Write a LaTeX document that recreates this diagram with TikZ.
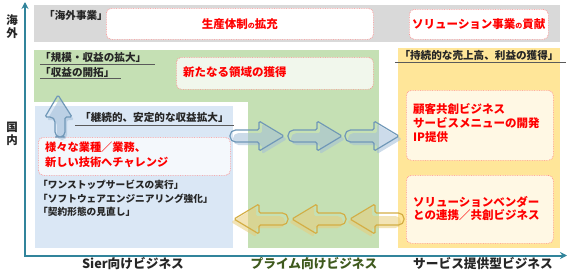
\documentclass[tikz,border=0pt]{standalone}
\usepackage{fontspec}
\usetikzlibrary{arrows.meta}
\newfontfamily\jp{Noto Sans CJK JP}
\definecolor{axisc}{HTML}{31849B}
\definecolor{grayband}{HTML}{D9D9D9}
\definecolor{greenreg}{HTML}{C5E0B4}
\definecolor{bluereg}{HTML}{DAE7F5}
\definecolor{yellowreg}{HTML}{FFE699}
\definecolor{creamfill}{HTML}{FFF8E4}
\definecolor{greenfill}{HTML}{F1F7EC}
\definecolor{bluefill}{HTML}{F4F8FC}
\definecolor{dotred}{HTML}{FF8A8A}
\definecolor{redtext}{HTML}{FF0000}
\definecolor{darktext}{HTML}{262626}
\definecolor{olivetext}{HTML}{3F5A1E}
\definecolor{ulinec}{HTML}{5A5A5A}
\definecolor{barline}{HTML}{7098B8}
\definecolor{barfill}{HTML}{A3BED8}
\definecolor{garline}{HTML}{D4AE45}
\definecolor{garfill}{HTML}{E9CD7A}
\tikzset{
  dotbox/.style={draw=dotred, densely dotted, line width=0.7pt, rounded corners=5pt,
                 inner sep=0pt, anchor=north west},
  redtxt/.style={text=redtext, font=\jp\bfseries\fontsize{11.5}{14}\selectfont,
                 inner sep=0pt, align=left},
  ttl/.style={text=darktext, font=\jp\bfseries\fontsize{10.6}{12}\selectfont,
              inner sep=0pt, anchor=west},
  smalltxt/.style={text=darktext, font=\jp\bfseries\fontsize{9.7}{13.5}\selectfont,
                   inner sep=0pt, anchor=west, align=left},
  axlbl/.style={text=darktext, font=\jp\bfseries\fontsize{12.7}{14}\selectfont, inner sep=0pt},
  vlbl/.style={text=darktext, font=\jp\bfseries\fontsize{11.5}{12.8}\selectfont,
               inner sep=0pt, align=center},
  uline/.style={draw=ulinec, line width=0.8pt},
  axisline/.style={draw=axisc, line width=2pt, -{Stealth[length=7pt,width=7pt]}},
  fatarrow/.pic={
    \fill[#1fill, opacity=0.55, shift={(3,3)}]
      (29,6) [rounded corners=5.5pt]-- (0,6) -- (0,-6) [rounded corners=1.5pt]-- (29,-6)
      -- (29,-15) -- (54,0) -- (29,15) -- cycle;
    \draw[#1line, line width=1.2pt]
      (29,6) [rounded corners=5.5pt]-- (0,6) -- (0,-6) [rounded corners=1.5pt]-- (29,-6)
      -- (29,-15) -- (54,0) -- (29,15) -- cycle;
  }
}
\begin{document}
\begin{tikzpicture}[x=1pt,y=-1pt]
\useasboundingbox (0,0) rectangle (573,271);

% ---- overseas band
\fill[grayband] (34,5) rectangle (560,42);
\node[ttl] (kaigai) at (44,15) {「海外事業」};
\node[dotbox, fill=white, minimum width=267pt, minimum height=31pt] (seisan) at (106,8)
  {\textcolor{redtext}{\jp\bfseries\fontsize{11.5}{14}\selectfont 生産体制{\fontsize{7}{8}\selectfont の}拡充}};
\node[dotbox, fill=white, minimum width=139pt, minimum height=30pt] (solkoken) at (409,9)
  {\textcolor{redtext}{\jp\bfseries\fontsize{11.5}{14}\selectfont ソリューション事業{\fontsize{7}{8}\selectfont の}貢献}};

% ---- green region (prime)
\fill[greenreg] (34,50) rectangle (379,248);
\fill[white] (34,102) rectangle (248,252);
\node[ttl] (kibo) at (40,57) {「規模・収益の拡大」};
\draw[uline] (40,64.5) -- (155,64.5);
\node[ttl] (kaitaku) at (40,72) {「収益の開拓」};
\draw[uline] (40,78.5) -- (121,78.5);
\node[dotbox, fill=greenfill, minimum width=197pt, minimum height=32pt] (arata) at (176,57) {};
\node[redtxt, anchor=west] (aratatxt) at (183,72.5) {新たなる領域の獲得};

% ---- yellow region (service)
\fill[yellowreg] (398,48) rectangle (560,248);
\node[ttl, anchor=center] (jizoku) at (479,55.5) {「持続的な売上高、利益の獲得」};
\draw[uline] (395,62.5) -- (566,62.5);
\node[dotbox, fill=creamfill, minimum width=147pt, minimum height=70pt] (kokyaku) at (406,90) {};
\node[redtxt, anchor=west] (kokyakutxt) at (413,123.5)
  {顧客共創ビジネス\\サービスメニューの開発\\IP提供};
\node[dotbox, fill=creamfill, minimum width=147pt, minimum height=68pt] (vendor) at (406,175) {};
\node[redtxt, anchor=west, font=\jp\bfseries\fontsize{11.5}{13}\selectfont] (vendortxt) at (413,208.5)
  {ソリューションベンダー\\との連携／共創ビジネス};

% ---- blue region (SIer)
\fill[bluereg] (35,106) rectangle (233,248);
\node[ttl] (keizoku) at (80,118) {「継続的、安定的な収益拡大」};
\draw[uline] (75,125) -- (234,125);
\node[dotbox, fill=bluefill, minimum width=192pt, minimum height=38pt] (samazama) at (38,137) {};
\node[redtxt, anchor=west, font=\jp\bfseries\fontsize{11.2}{15}\selectfont] (samazamatxt) at (45,155)
  {様々な業種／業務、\\新しい技術へチャレンジ};
\node[smalltxt] (onestop) at (38,198.5)
  {「ワンストップサービスの実行」\\「ソフトウェアエンジニアリング強化」\\「契約形態の見直し」};

% ---- up arrow
\fill[barfill, opacity=0.55, shift={(2,3)}]
  (60,137) [rounded corners=5pt]-- (55,137) -- (55,117) [rounded corners=1.5pt]-- (45,117)
  -- (58,95) -- (72,117) -- (65,117) [rounded corners=5pt]-- (65,137) -- cycle;
\draw[barline, line width=1.2pt]
  (60,137) [rounded corners=5pt]-- (55,137) -- (55,117) [rounded corners=1.5pt]-- (45,117)
  -- (58,95) -- (72,117) -- (65,117) [rounded corners=5pt]-- (65,137) -- cycle;

% ---- right (blue) arrows
\pic at (230,136) {fatarrow=bar};
\pic at (288,136) {fatarrow=bar};
\pic at (345,136) {fatarrow=bar};

% ---- left (gold) arrows
\pic[xscale=-1] at (288,219) {fatarrow=gar};
\pic[xscale=-1] at (346,219) {fatarrow=gar};
\pic[xscale=-1] at (404,219) {fatarrow=gar};

% ---- axes
\coordinate (origin) at (25,255.5);
\coordinate (ytop) at (25,2);
\coordinate (xend) at (567,255.5);
\draw[axisline] (25,256.5) -- (ytop);
\draw[axisline] (24,255.5) -- (xend);

\node[vlbl] (kaigaiax) at (12,27) {海\\外};
\node[vlbl] (kokunaiax) at (12,133.5) {国\\内};

\node[axlbl] (sier) at (133,263.5) {Sier向けビジネス};
\node[axlbl, text=olivetext] (prime) at (314,263.5) {プライム向けビジネス};
\node[axlbl] (service) at (483,263.5) {サービス提供型ビジネス};
\end{tikzpicture}
\end{document}
